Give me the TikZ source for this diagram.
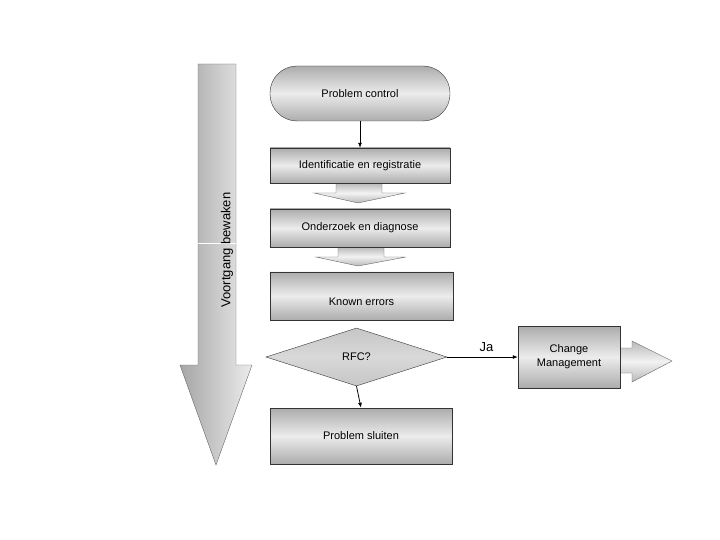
\documentclass[tikz,border=0pt]{standalone}
\usepackage{fontspec}
\setmainfont{Liberation Sans}
\usetikzlibrary{shapes.geometric,arrows.meta}
\begin{document}
\begin{tikzpicture}[x=1pt,y=-1pt,
  box/.style={draw=black!80,top color=gray!65,bottom color=gray!65,middle color=gray!15,font=\fontsize{11}{13}\selectfont},
  barrow/.style={draw=black!60,top color=gray!55,bottom color=gray!55,middle color=gray!10},
  conn/.style={-{Latex[length=5pt,width=4pt]},thick}]
\useasboundingbox (0,0) rectangle (720,540);
% big side arrow
\path[draw=black!60,left color=gray!70,right color=gray!15]
  (198,64) -- (236,64) -- (236,365) -- (252,365) -- (216,465) -- (180,365) -- (198,365) -- cycle;
\draw[white] (198,243) -- (236,243);
\node[rotate=90,font=\fontsize{13}{15}\selectfont] (v) at (227,250) {Voortgang bewaken};
% nodes
\node[box,rounded corners=27pt,minimum width=180pt,minimum height=55pt] (pc) at (360,93.5) {Problem control};
\path[barrow] (336,183) -- (382,183) -- (382,193) -- (405,193) -- (358,203) -- (314,193) -- (336,193) -- cycle;
\node[box,minimum width=180pt,minimum height=35pt] (id) at (360,165.5) {Identificatie en registratie};
\path[barrow] (338,247) -- (384,247) -- (384,257) -- (406,257) -- (358,266) -- (316,257) -- (338,257) -- cycle;
\node[box,minimum width=180pt,minimum height=38pt] (oz) at (360,228) {Onderzoek en diagnose};
\node[box,cylinder,shape border rotate=90,aspect=0.2,minimum width=183pt,minimum height=48pt,inner sep=0pt] (ke) at (361.5,296) {};
\node[font=\fontsize{11}{13}\selectfont] (ket) at (361.5,302) {Known errors};
\node[box,diamond,aspect=3.1,minimum width=181pt,minimum height=58pt,inner sep=0pt,top color=gray!45,bottom color=gray!45,middle color=gray!30] (rfc) at (356.5,357) {RFC?};
\node[box,minimum width=182pt,minimum height=56pt] (ps) at (361,436) {Problem sluiten};
\path[barrow] (620,348) -- (632,348) -- (632,341) -- (672,361) -- (632,382) -- (632,373) -- (620,373) -- cycle;
\node[box,minimum width=102pt,minimum height=62pt,align=center,font=\fontsize{11}{14}\selectfont] (cm) at (569,357) {Change\\Management};
% connectors
\draw[conn] (pc.south) -- (id.north);
\draw[conn] (rfc.south) -- (ps.north);
\draw[conn] (rfc.east) -- node[above=2pt,font=\fontsize{13}{15}\selectfont,xshift=4pt] (ja) {Ja} (cm.west);
\end{tikzpicture}
\end{document}
